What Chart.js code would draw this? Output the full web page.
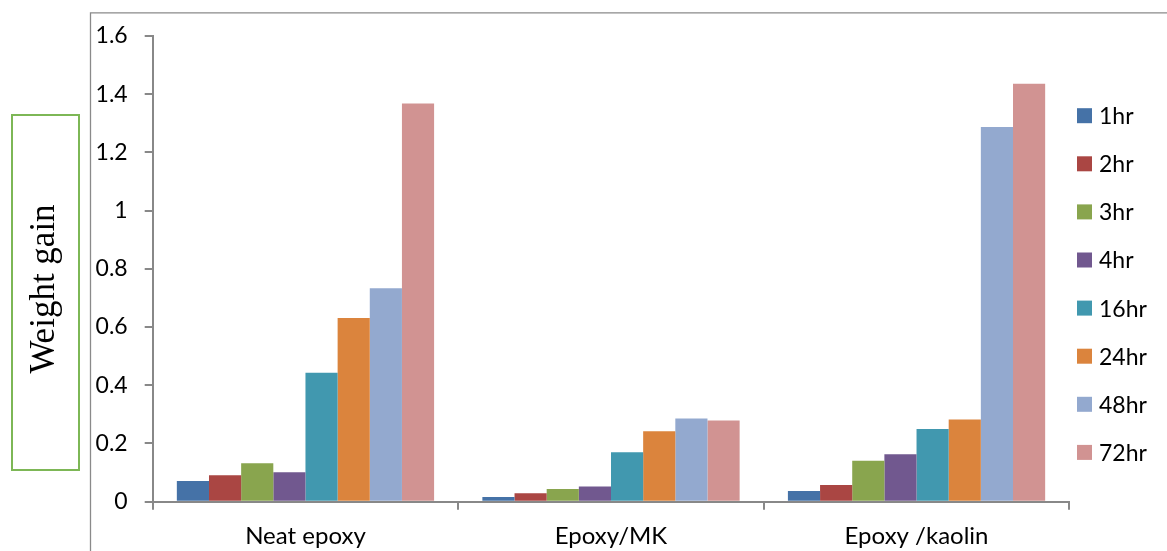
<!DOCTYPE html>
<html>
<head>
<meta charset="utf-8">
<script src="https://cdn.jsdelivr.net/npm/chart.js@4/dist/chart.umd.min.js"></script>
<style>
  html, body { margin: 0; padding: 0; background: #ffffff; }
  #wrap { width: 1167px; height: 551px; position: relative; }
</style>
</head>
<body>
<div id="wrap"><canvas id="chart" width="1167" height="551"></canvas></div>
<script>
// Materials tested
const categories = ['Neat epoxy', 'Epoxy/MK', 'Epoxy /kaolin'];

// Immersion times (one series each)
const seriesNames = ['1hr', '2hr', '3hr', '4hr', '16hr', '24hr', '48hr', '72hr'];

// Weight gain per material, one array per immersion time
const gain1hr  = [0.071, 0.016, 0.037];
const gain2hr  = [0.091, 0.029, 0.057];
const gain3hr  = [0.132, 0.044, 0.141];
const gain4hr  = [0.101, 0.052, 0.163];
const gain16hr = [0.443, 0.170, 0.250];
const gain24hr = [0.631, 0.242, 0.282];
const gain48hr = [0.733, 0.286, 1.287];
const gain72hr = [1.368, 0.279, 1.436];

// Value axis tick labels
const yTickLabels = ['0', '0.2', '0.4', '0.6', '0.8', '1', '1.2', '1.4', '1.6'];

const seriesValues = [gain1hr, gain2hr, gain3hr, gain4hr, gain16hr, gain24hr, gain48hr, gain72hr];
const seriesColors = ['#4572A7', '#AA4643', '#89A54E', '#71588F', '#4198AF', '#DB843D', '#93A9CF', '#D19392'];

const LABEL_FONT = 'Lato, "Open Sans", sans-serif';
const AXIS_GREY = '#888888';

// Outer frame, boxed axis title and the legend column
const decorations = {
  id: 'decorations',
  afterDraw(chart) {
    const ctx = chart.ctx;
    ctx.save();

    // chart frame (top and left edges)
    ctx.strokeStyle = '#8a8a8a';
    ctx.lineWidth = 1.3;
    ctx.beginPath();
    ctx.moveTo(90.5, 551);
    ctx.lineTo(90.5, 12.8);
    ctx.lineTo(1167, 12.8);
    ctx.stroke();

    // axis title box
    ctx.strokeStyle = '#7DB756';
    ctx.lineWidth = 2;
    ctx.strokeRect(12, 115, 67, 355);

    // axis title
    ctx.fillStyle = '#000000';
    ctx.font = '35px "Liberation Serif", "Times New Roman", serif';
    ctx.textAlign = 'center';
    ctx.textBaseline = 'alphabetic';
    ctx.translate(53.5, 289);
    ctx.rotate(-Math.PI / 2);
    ctx.fillText('Weight gain', 0, 0);
    ctx.setTransform(1, 0, 0, 1, 0, 0);

    // legend
    ctx.font = '23px ' + LABEL_FONT;
    ctx.textAlign = 'left';
    ctx.textBaseline = 'middle';
    chart.data.datasets.forEach((ds, i) => {
      const cy = 115.7 + 48.1 * i;
      ctx.fillStyle = ds.backgroundColor;
      ctx.fillRect(1077, cy - 7.5, 15, 15);
      ctx.fillStyle = '#000000';
      ctx.fillText(ds.label, 1099, cy + 1);
    });
    ctx.restore();
  }
};

new Chart(document.getElementById('chart'), {
  type: 'bar',
  data: {
    labels: categories,
    datasets: seriesNames.map((name, i) => ({
      label: name,
      data: seriesValues[i],
      backgroundColor: seriesColors[i],
      borderWidth: 0,
      categoryPercentage: 0.842,
      barPercentage: 1.0
    }))
  },
  options: {
    responsive: false,
    animation: false,
    devicePixelRatio: 1,
    layout: { padding: { left: 0, right: 97.7, top: 36, bottom: 0 } },
    plugins: {
      legend: { display: false },
      tooltip: { enabled: false },
      title: { display: false }
    },
    scales: {
      x: {
        grid: {
          offset: true,
          drawOnChartArea: false,
          drawTicks: true,
          tickLength: 8,
          color: AXIS_GREY,
          lineWidth: 2
        },
        border: { display: true, color: AXIS_GREY, width: 2 },
        ticks: {
          color: '#000000',
          font: { family: LABEL_FONT, size: 24 },
          padding: 12,
          maxRotation: 0,
          autoSkip: false
        },
        afterFit(scale) { scale.height = 49.3; }
      },
      y: {
        min: 0,
        max: 1.6,
        grid: {
          drawOnChartArea: false,
          drawTicks: true,
          tickLength: 8,
          color: AXIS_GREY,
          lineWidth: 2
        },
        border: { display: true, color: AXIS_GREY, width: 2 },
        ticks: {
          stepSize: 0.2,
          color: '#000000',
          font: { family: LABEL_FONT, size: 23 },
          padding: 17,
          callback: (v, idx) => yTickLabels[idx]
        },
        afterFit(scale) { scale.width = 152.7; }
      }
    }
  },
  plugins: [decorations]
});
</script>
</body>
</html>
